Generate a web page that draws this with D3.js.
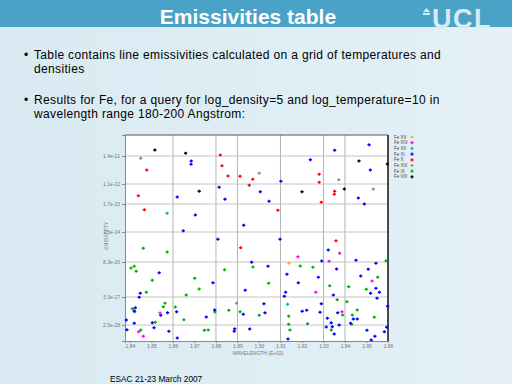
<!DOCTYPE html>
<html>
<head>
<meta charset="utf-8">
<script src="https://cdn.jsdelivr.net/npm/d3@7"></script>
<style>
  body { margin: 0; }
  svg { display: block; }
</style>
</head>
<body>
<div id="slide"></div>
<script>
// Wavelength in Angstrom, log10 emissivity
const xTicks = [184, 185, 186, 187, 188, 189, 190, 191, 192, 193, 194, 195, 196];
const xGrid = [186, 188, 189, 191, 193, 194];
const yTicks = [-20.84, -21.96, -22.76, -23.88, -25.08, -26.48, -27.6];

const bullets = [
  ["Table contains line emissivities calculated on a grid of temperatures and", "densities"],
  ["Results for Fe, for a query for log_density=5 and log_temperature=10 in", "wavelength range 180-200 Angstrom:"]
];

const ionNames = ["Fe XV", "Fe XIV", "Fe XII", "Fe XI", "Fe X", "Fe XIII", "Fe IX", "Fe VIII"];
const ionColors = ["#ffb000", "#ff00ff", "#00b4b4", "#0000ff", "#ff0000", "#8c8c8c", "#00b000", "#000000"];

const orangePts = [[191.40, -25.13]];
const magentaPts = [[191.81, -24.87], [193.75, -24.73], [193.26, -25.05], [192.64, -26.29], [195.26, -25.84],
  [193.86, -27.07], [185.40, -27.12], [184.40, -27.87], [184.62, -28.05]];
const cyanPts = [[185.73, -23.13], [191.33, -26.77]];
const bluePts = [[186.85, -21.04], [186.84, -21.17], [186.20, -22.48], [188.15, -22.09], [188.42, -22.57],
  [187.04, -23.20], [186.48, -23.83], [188.09, -24.17], [189.29, -23.61], [190.06, -22.27], [190.47, -22.65],
  [191.02, -21.85], [190.98, -24.17], [192.39, -20.99], [193.52, -20.61], [195.12, -20.39], [195.18, -21.40],
  [194.62, -22.52], [194.90, -22.76], [193.22, -24.60], [192.92, -25.04], [193.61, -25.36], [194.51, -25.01],
  [195.08, -25.37], [195.44, -25.13], [194.73, -25.64], [192.76, -25.69], [191.83, -25.91], [191.30, -25.57],
  [191.24, -26.29], [191.18, -26.45], [189.66, -25.09], [190.42, -25.25], [189.36, -26.21], [187.86, -25.91],
  [185.36, -25.51], [184.48, -26.33], [184.43, -26.49], [184.25, -26.91], [184.20, -27.04], [183.83, -27.40],
  [183.86, -27.79], [184.20, -27.53], [185.04, -27.51], [185.12, -27.71], [185.43, -27.21], [185.75, -27.11],
  [185.81, -27.85], [186.17, -27.07], [186.20, -28.12], [187.55, -27.28], [187.94, -27.00], [188.87, -27.75],
  [188.85, -27.85], [189.27, -27.17], [189.57, -27.76], [190.23, -26.75], [190.28, -27.11], [191.35, -28.16],
  [192.01, -27.05], [192.22, -27.01], [192.84, -27.09], [192.90, -26.75], [193.46, -26.40], [193.66, -27.11],
  [193.18, -27.33], [193.36, -27.51], [193.41, -27.67], [193.13, -27.68], [193.50, -27.96], [193.73, -27.60],
  [194.39, -27.36], [194.57, -27.36], [194.26, -27.53], [195.02, -27.81], [195.22, -28.20], [195.39, -28.05],
  [195.83, -27.87], [195.94, -27.69], [195.98, -26.85], [195.60, -26.29], [195.44, -26.13], [195.19, -26.33],
  [195.49, -26.53]];
const redPts = [[184.78, -21.40], [184.39, -22.43], [184.67, -22.99], [188.20, -20.80], [188.28, -21.23],
  [188.56, -21.64], [189.12, -21.65], [189.71, -21.77], [189.55, -22.01], [190.88, -23.01], [192.80, -21.57],
  [192.80, -21.89], [193.52, -22.25], [193.50, -22.37], [192.90, -22.69], [193.58, -24.23], [189.15, -24.51]];
const grayPts = [[184.50, -20.93], [190.01, -21.53], [193.71, -21.79], [195.32, -22.16], [188.96, -26.73]];
const greenPts = [[184.62, -24.53], [185.73, -24.68], [184.05, -25.32], [184.20, -25.25], [184.29, -25.45],
  [185.04, -25.81], [184.76, -26.29], [184.11, -26.95], [184.22, -27.07], [185.18, -27.49], [185.55, -26.87],
  [185.63, -26.73], [184.50, -27.80], [186.11, -26.88], [186.51, -27.39], [186.62, -26.40], [187.01, -25.73],
  [187.22, -26.16], [187.46, -27.81], [187.64, -27.80], [187.95, -27.08], [188.40, -25.39], [188.60, -27.01],
  [189.12, -27.07], [189.72, -25.28], [190.01, -27.21], [190.45, -25.93], [191.38, -27.25], [191.38, -27.57],
  [191.44, -27.80], [191.92, -25.24], [192.26, -27.55], [192.51, -25.29], [193.29, -26.03], [193.64, -26.59],
  [193.89, -27.20], [193.36, -27.80], [194.09, -26.67], [194.17, -26.07], [194.34, -27.20], [194.31, -27.57],
  [194.57, -27.00], [194.99, -26.17], [195.36, -27.29], [195.52, -25.69], [195.91, -25.03]];
const blackPts = [[185.16, -20.60], [186.59, -20.73], [187.22, -22.25], [192.00, -22.27], [193.97, -22.16],
  [194.65, -21.04], [195.97, -21.16]];

const seriesPts = [orangePts, magentaPts, cyanPts, bluePts, redPts, grayPts, greenPts, blackPts];
// draw order: green and blue first, so the rarer colours stay on top
const drawOrder = [6, 3, 5, 4, 7, 2, 1, 0];

const W = 512, H = 384;
const svg = d3.select("#slide").append("svg").attr("width", W).attr("height", H);

// slide background
const defs = svg.append("defs");
const bg = defs.append("linearGradient").attr("id", "bg").attr("x1", 0).attr("x2", 1).attr("y1", 0).attr("y2", 0);
bg.append("stop").attr("offset", 0).attr("stop-color", "#d9eaf2");
bg.append("stop").attr("offset", 1).attr("stop-color", "#e4f0f6");
svg.append("rect").attr("width", W).attr("height", H).attr("fill", "url(#bg)");

// title bar
svg.append("rect").attr("width", W).attr("height", 27).attr("fill", "#4aa2c6");
svg.append("text")
  .attr("x", 248).attr("y", 24)
  .attr("text-anchor", "middle")
  .attr("font-family", "Liberation Sans, Arial, sans-serif")
  .attr("font-weight", "bold").attr("font-size", 21)
  .attr("fill", "#ffffff")
  .text("Emissivities table");

// UCL logo
const logo = svg.append("g").attr("fill", "#d7ebf4");
logo.append("path").attr("d", "M423,12 L426.5,8 L430,12 Z");
logo.append("rect").attr("x", 423).attr("y", 13).attr("width", 7).attr("height", 2);
logo.append("text")
  .attr("x", 432).attr("y", 27.5)
  .attr("font-family", "Liberation Sans, Arial, sans-serif")
  .attr("font-weight", "bold").attr("font-size", 27)
  .attr("letter-spacing", 1.5)
  .text("UCL");

// bullets
const bulletY = [58.5, 103.5];
bullets.forEach((lines, i) => {
  svg.append("text")
    .attr("x", 24).attr("y", bulletY[i])
    .attr("font-family", "Liberation Sans, Arial, sans-serif")
    .attr("font-size", 12).attr("fill", "#000")
    .text("\u2022");
  lines.forEach((line, j) => {
    svg.append("text")
      .attr("x", 34).attr("y", bulletY[i] + j * 14)
      .attr("font-family", "Liberation Sans, Arial, sans-serif")
      .attr("font-size", 12).attr("letter-spacing", 0.35).attr("fill", "#000")
      .text(line);
  });
});

// footer
svg.append("text")
  .attr("x", 110).attr("y", 382)
  .attr("font-family", "Liberation Sans, Arial, sans-serif")
  .attr("font-size", 8.3).attr("fill", "#000")
  .text("ESAC 21-23 March 2007");

// chart
const x = d3.scaleLinear().domain([183.77, 196.0]).range([125, 388]);
const y = d3.scaleLinear().domain([-28.24, -20]).range([341, 135]);

svg.append("rect")
  .attr("x", x.range()[0]).attr("y", y.range()[1])
  .attr("width", x.range()[1] - x.range()[0])
  .attr("height", y.range()[0] - y.range()[1])
  .attr("fill", "#ffffff");

// grid
svg.append("g").selectAll("line").data(xGrid).enter().append("line")
  .attr("x1", d => x(d)).attr("x2", d => x(d))
  .attr("y1", y.range()[0]).attr("y2", y.range()[1])
  .attr("stroke", "#b4b4b4").attr("stroke-width", 1);
svg.append("g").selectAll("line").data(yTicks).enter().append("line")
  .attr("x1", x.range()[0]).attr("x2", x.range()[1])
  .attr("y1", d => y(d)).attr("y2", d => y(d))
  .attr("stroke", "#c4c4c4").attr("stroke-width", 1);

// axes
const xAxis = svg.append("g")
  .attr("transform", "translate(0," + y.range()[0] + ")")
  .call(d3.axisBottom(x).tickValues(xTicks).tickSize(2).tickPadding(1)
    .tickFormat(d => (d / 100).toFixed(2)));
const yAxis = svg.append("g")
  .attr("transform", "translate(" + x.range()[0] + ",0)")
  .call(d3.axisLeft(y).tickValues(yTicks).tickSize(3).tickPadding(2)
    .tickFormat(d => d3.format(".1e")(Math.pow(10, d))));
[xAxis, yAxis].forEach(a => {
  a.selectAll("text").attr("font-size", 5).attr("fill", "#777").attr("font-family", "Liberation Sans, Arial, sans-serif");
  a.selectAll("line").attr("stroke", "#888");
  a.select(".domain").attr("stroke", "#888");
});

// frame top and right
svg.append("line")
  .attr("x1", x.range()[0]).attr("x2", x.range()[1])
  .attr("y1", y.range()[1]).attr("y2", y.range()[1])
  .attr("stroke", "#555").attr("stroke-width", 1);
svg.append("line")
  .attr("x1", x.range()[1]).attr("x2", x.range()[1])
  .attr("y1", y.range()[1]).attr("y2", y.range()[0])
  .attr("stroke", "#111").attr("stroke-width", 1.5);

// axis labels
svg.append("text")
  .attr("x", 258).attr("y", 355)
  .attr("text-anchor", "middle")
  .attr("font-family", "Liberation Sans, Arial, sans-serif")
  .attr("font-size", 5).attr("fill", "#777")
  .text("WAVELENGTH (E+02)");
svg.append("text")
  .attr("transform", "translate(108,236) rotate(-90)")
  .attr("text-anchor", "middle")
  .attr("font-family", "Liberation Sans, Arial, sans-serif")
  .attr("font-size", 5).attr("fill", "#777")
  .text("EMISSIVITY");

// points
const cross = "M-1.6,0H1.6M0,-1.6V1.6";
drawOrder.forEach(i => {
  svg.append("g").selectAll("path").data(seriesPts[i]).enter().append("path")
    .attr("d", cross)
    .attr("transform", d => "translate(" + x(d[0]) + "," + y(d[1]) + ")")
    .attr("stroke", ionColors[i]).attr("stroke-width", 1.3)
    .attr("fill", "none");
});

// legend
const legend = svg.append("g");
ionNames.forEach((name, i) => {
  const ly = 137 + i * 5.7;
  legend.append("text")
    .attr("x", 394).attr("y", ly + 1.5)
    .attr("font-family", "Liberation Sans, Arial, sans-serif")
    .attr("font-size", 4.5).attr("fill", "#444")
    .text(name);
  legend.append("path")
    .attr("d", cross)
    .attr("transform", "translate(412," + ly + ")")
    .attr("stroke", ionColors[i]).attr("stroke-width", 1.2);
});
</script>
</body>
</html>
